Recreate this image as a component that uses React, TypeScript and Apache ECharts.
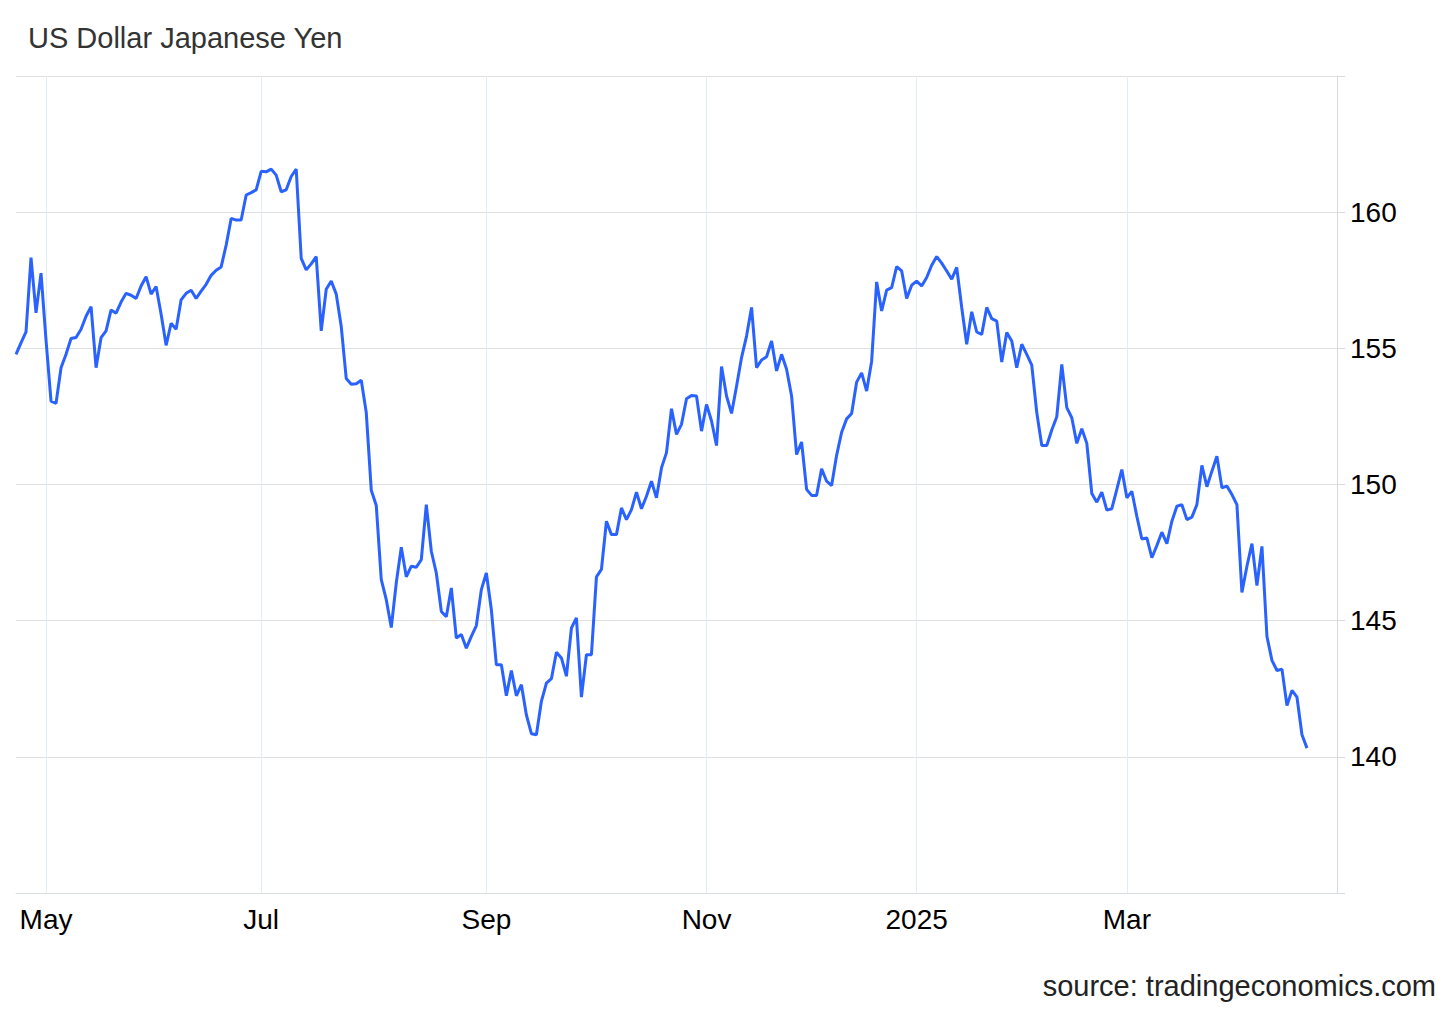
import React, { useEffect, useRef } from "react";
import * as echarts from "echarts";

// ---------- data ----------
const TITLE = "US Dollar Japanese Yen";
const SOURCE = "source: tradingeconomics.com";

// trading calendar (weekdays), axis runs a few days past the last quote
const START_DATE = "2024-04-23";
const AXIS_END_DATE = "2025-04-30";
const HOLIDAYS = ["2024-12-25", "2025-01-01"];

// USD/JPY daily closes
const rateAprJun2024 = [
  154.78, 155.2, 155.6, 158.33, 156.3, 157.76, 155.3, 153.06, 152.98, 154.29,
  154.78, 155.36, 155.4, 155.7, 156.18, 156.53, 154.29, 155.39, 155.64, 156.41,
  156.29, 156.7, 157.02, 156.95, 156.83, 157.29, 157.63, 156.99, 157.27, 156.25,
  155.11, 155.92, 155.7, 156.78, 157.02, 157.13, 156.83, 157.1, 157.35, 157.68,
  157.87, 157.99, 158.79, 159.77, 159.71, 159.71, 160.63, 160.72, 160.82,
];
const rateJulAug2024 = [
  161.5, 161.48, 161.58, 161.36, 160.75, 160.82, 161.31, 161.58, 158.3, 157.88,
  158.1, 158.37, 155.64, 157.17, 157.47, 156.99, 155.8, 153.89, 153.68, 153.7,
  153.83, 152.64, 149.79, 149.23, 146.51, 145.77, 144.75, 146.39, 147.7, 146.61,
  147.0, 146.96, 147.24, 149.26, 147.55, 146.75, 145.34, 145.14, 146.2, 144.36,
  144.49, 143.99, 144.42, 144.82, 146.14,
];
const rateSepOct2024 = [
  146.75, 145.4, 143.38, 143.38, 142.24, 143.17, 142.24, 142.65, 141.54, 140.85,
  140.81, 142.04, 142.71, 142.87, 143.84, 143.63, 142.96, 144.73, 145.1, 142.19,
  143.75, 143.75, 146.61, 146.88, 148.65, 148.16, 148.16, 149.14, 148.71, 149.08,
  149.72, 149.11, 149.57, 150.12, 149.51, 150.61, 151.17, 152.78, 151.84, 152.21,
  153.15, 153.27, 153.25, 151.96,
];
const rateNovDec2024 = [
  152.94, 152.33, 151.43, 154.33, 153.25, 152.61, 153.61, 154.66, 155.45, 156.5,
  154.29, 154.57, 154.69, 155.27, 154.17, 154.78, 154.23, 153.25, 151.1, 151.56,
  149.82, 149.6, 149.6, 150.58, 150.12, 149.96, 151.07, 151.92, 152.41, 152.61,
  153.76, 154.1, 153.43, 154.53, 157.44, 156.37, 157.14, 157.23, 158.0, 157.84,
  156.83, 157.32,
];
const rateJanFeb2025 = [
  157.47, 157.29, 157.6, 158.05, 158.37, 158.13, 157.84, 157.54, 157.97, 156.5,
  155.15, 156.34, 155.6, 155.51, 156.5, 156.09, 156.0, 154.5, 155.58, 155.27,
  154.29, 155.15, 154.78, 154.38, 152.64, 151.43, 151.43, 152.0, 152.49, 154.41,
  152.82, 152.45, 151.51, 152.05, 151.51, 149.67, 149.35, 149.72, 149.06, 149.11,
  149.82, 150.55,
];
const rateMarApr2025 = [
  149.51, 149.75, 148.83, 148.0, 148.04, 147.31, 147.76, 148.25, 147.83, 148.65,
  149.2, 149.26, 148.71, 148.8, 149.26, 150.7, 149.92, 150.49, 151.04, 149.88,
  149.94, 149.63, 149.26, 146.04, 147.0, 147.83, 146.29, 147.73, 144.42, 143.54,
  143.17, 143.22, 141.88, 142.44, 142.19, 140.81, 140.32,
];

const Y_MIN = 135;
const Y_MAX = 165;
const Y_STEP = 5;
const MONTH_LABELS = ["", "", "Mar", "", "May", "", "Jul", "", "Sep", "", "Nov", ""];

// ---------- helpers ----------
function tradingDays(start: string, end: string, holidays: string[]): string[] {
  const out: string[] = [];
  const d = new Date(start + "T00:00:00Z");
  const e = new Date(end + "T00:00:00Z");
  while (d.getTime() <= e.getTime()) {
    const wd = d.getUTCDay();
    const iso = d.toISOString().slice(0, 10);
    if (wd !== 0 && wd !== 6 && holidays.indexOf(iso) < 0) out.push(iso);
    d.setUTCDate(d.getUTCDate() + 1);
  }
  return out;
}

const FONT = "'Liberation Sans', Arial, Helvetica, sans-serif";

export default function App() {
  const ref = useRef<HTMLDivElement>(null);

  useEffect(() => {
    if (!ref.current) return;
    const chart = echarts.init(ref.current, null, { renderer: "svg" });

    const categories = tradingDays(START_DATE, AXIS_END_DATE, HOLIDAYS);
    const values = [
      ...rateAprJun2024,
      ...rateJulAug2024,
      ...rateSepOct2024,
      ...rateNovDec2024,
      ...rateJanFeb2025,
      ...rateMarApr2025,
    ];

    // first trading day of a labelled month
    const isMonthStart = (index: number) => {
      const cur = categories[index];
      if (!cur) return false;
      const m = Number(cur.slice(5, 7)) - 1;
      const prev = categories[index - 1];
      const first = !prev || prev.slice(0, 7) !== cur.slice(0, 7);
      if (!first || index === 0) return false;
      return m === 0 || MONTH_LABELS[m] !== "";
    };
    const labelFor = (value: string) => {
      const m = Number(value.slice(5, 7)) - 1;
      if (m === 0) return value.slice(0, 4);
      return MONTH_LABELS[m];
    };

    chart.setOption({
      animation: false,
      title: {
        text: TITLE,
        left: 28,
        top: 23,
        padding: 0,
        textStyle: { fontSize: 29, fontWeight: "normal", color: "#333", fontFamily: FONT },
      },
      grid: { left: 16, right: 119, top: 76, bottom: 116, containLabel: false },
      xAxis: {
        type: "category",
        data: categories,
        boundaryGap: false,
        axisLine: { show: true, lineStyle: { color: "#d6dee6", width: 1 } },
        axisTick: { show: false },
        axisLabel: {
          interval: (index: number) => isMonthStart(index),
          formatter: (value: string) => labelFor(value),
          fontSize: 28,
          color: "#000",
          margin: 12,
          fontFamily: FONT,
        },
        splitLine: {
          show: true,
          interval: (index: number) => isMonthStart(index),
          lineStyle: { color: "#e3edf5", width: 1 },
        },
      },
      yAxis: {
        type: "value",
        position: "right",
        min: Y_MIN,
        max: Y_MAX,
        interval: Y_STEP,
        axisLine: { show: true, lineStyle: { color: "#dadada", width: 1 } },
        axisTick: { show: true, length: 8, lineStyle: { color: "#dadada" } },
        axisLabel: {
          fontSize: 28,
          color: "#000",
          margin: 13,
          fontFamily: FONT,
          formatter: (v: number) => (v === Y_MIN || v === Y_MAX ? "" : String(v)),
        },
        splitLine: { show: true, lineStyle: { color: "#e0e0e0", width: 1 } },
      },
      series: [
        {
          type: "line",
          data: values,
          symbol: "none",
          showSymbol: false,
          lineStyle: { color: "#2962ff", width: 3 },
        },
      ],
      graphic: [
        {
          type: "text",
          x: 1436,
          y: 986,
          style: {
            text: SOURCE,
            fontSize: 29,
            fontFamily: FONT,
            fill: "#222",
            align: "right",
            verticalAlign: "middle",
          },
        },
      ],
    });

    return () => chart.dispose();
  }, []);

  return (
    <div
      ref={ref}
      style={{ position: "absolute", left: 0, top: 0, width: 1456, height: 1009, background: "#fff" }}
    />
  );
}
